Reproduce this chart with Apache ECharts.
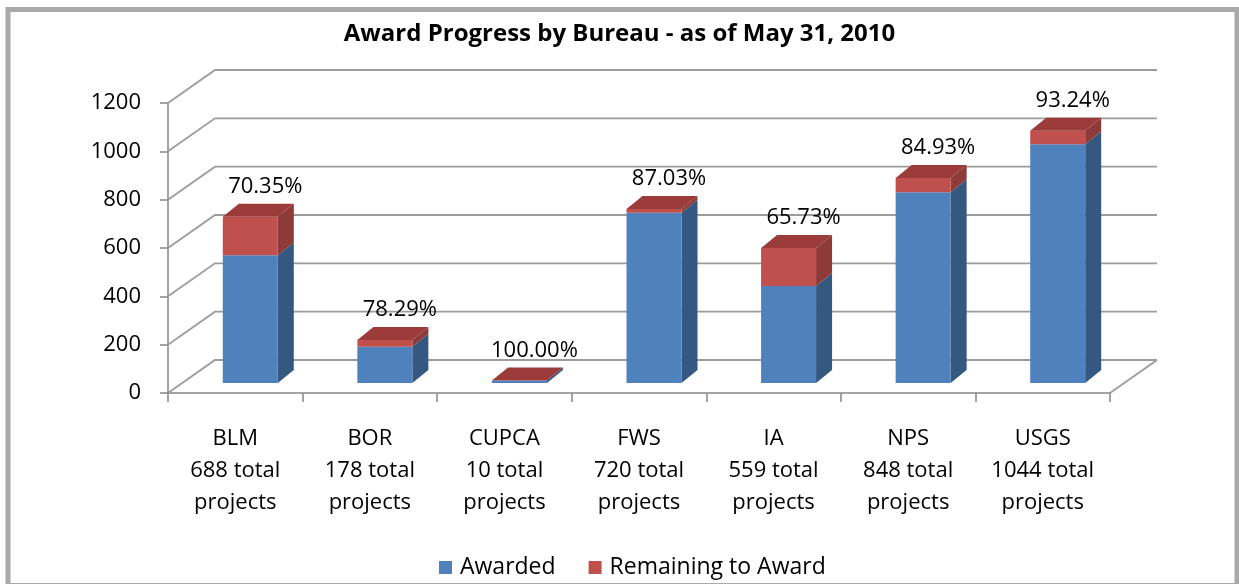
<!DOCTYPE html>
<html>
<head>
<meta charset="utf-8">
<script src="https://cdn.jsdelivr.net/npm/echarts@6/dist/echarts.min.js"></script>
<style>
html,body{margin:0;padding:0;background:#fff;}
#c{width:1239px;height:584px;}
</style>
</head>
<body>
<div id="c"></div>
<script>
// ---- data ----
const categories = ['BLM', 'BOR', 'CUPCA', 'FWS', 'IA', 'NPS', 'USGS'];
const totals = [688, 178, 10, 720, 559, 848, 1044];
const awarded = [529, 150, 10, 705, 401, 789, 988];
const remaining = [159, 28, 0, 15, 158, 59, 56];
const pctLabels = ['70.35%', '78.29%', '100.00%', '87.03%', '65.73%', '84.93%', '93.24%'];
const yTicks = [0, 200, 400, 600, 800, 1000, 1200];
const seriesNames = ['Awarded', 'Remaining to Award'];

// ---- styling constants ----
const FONT = "'Open Sans', 'DejaVu Sans', sans-serif";
const WALL_DX = 47, WALL_DY = -33;
const FRONT_DX = 15, FRONT_DY = -10;
const BAR_W = 55, BAR_DX = 16, BAR_DY = -13;
const BLUE = { front: '#4F81BD', side: '#34587F', top: '#3F6A9C' };
const RED = { front: '#C0504D', side: '#8E3A38', top: '#9B3C3A' };

const chart = echarts.init(document.getElementById('c'), null, { renderer: 'canvas' });

function wallRender(params, api) {
  const v = api.value(1);
  const cs = params.coordSys;
  const y = api.coord([0, v])[1];
  const xl = cs.x, xr = cs.x + cs.width;
  const children = [{
    type: 'polyline',
    shape: { points: [[xl, y], [xl + WALL_DX, y + WALL_DY], [xr + WALL_DX, y + WALL_DY]] },
    style: { stroke: '#9C9C9C', lineWidth: 1.8, fill: null }
  }];
  if (v === 0) {
    children.push({
      type: 'line',
      shape: { x1: xr, y1: y, x2: xr + WALL_DX, y2: y + WALL_DY },
      style: { stroke: '#9C9C9C', lineWidth: 1.8 }
    });
  }
  return { type: 'group', children: children };
}

function barRender(colors, isTop) {
  return function (params, api) {
    const i = api.value(0);
    const base = api.value(1), top = api.value(2);
    const p0 = api.coord([i, base]);
    const p1 = api.coord([i, top]);
    const cx = p0[0] + FRONT_DX;
    const x0 = cx - BAR_W / 2, x1 = cx + BAR_W / 2;
    const yb = p0[1] + FRONT_DY, yt = p1[1] + FRONT_DY;
    const children = [];
    if (yb - yt > 0.01) {
      children.push({
        type: 'polygon',
        shape: { points: [[x1, yb], [x1 + BAR_DX, yb + BAR_DY], [x1 + BAR_DX, yt + BAR_DY], [x1, yt]] },
        style: { fill: colors.side }
      });
      children.push({
        type: 'rect',
        shape: { x: x0, y: yt, width: BAR_W, height: yb - yt },
        style: { fill: colors.front }
      });
    }
    if (isTop) {
      children.push({
        type: 'polygon',
        shape: { points: [[x0, yt], [x0 + BAR_DX, yt + BAR_DY], [x1 + BAR_DX, yt + BAR_DY], [x1, yt]] },
        style: { fill: colors.top }
      });
      children.push({
        type: 'text',
        style: {
          text: pctLabels[i],
          x: cx + 15, y: yt + BAR_DY - 17,
          align: 'center', verticalAlign: 'middle',
          fill: '#000', font: '22px ' + FONT
        }
      });
    }
    return { type: 'group', children: children };
  };
}

const option = {
  backgroundColor: '#fff',
  animation: false,
  title: {
    text: 'Award Progress by Bureau - as of May 31, 2010',
    left: 'center', top: 17,
    textStyle: { fontFamily: FONT, fontWeight: 'bold', fontSize: 24, color: '#000' }
  },
  legend: {
    data: seriesNames,
    left: 434, top: 551,
    icon: 'rect', itemWidth: 13, itemHeight: 13, itemGap: 33,
    textStyle: { fontFamily: FONT, fontSize: 23, color: '#000', padding: [0, 0, 0, 3] }
  },
  grid: { left: 168, right: 129, top: 103, bottom: 191 },
  xAxis: {
    type: 'category',
    data: categories.map((c, i) => c + '\n' + totals[i] + ' total\nprojects'),
    axisLine: { lineStyle: { color: '#868686', width: 1.5 } },
    axisTick: { show: true, length: 9, lineStyle: { color: '#868686', width: 1.5 } },
    axisLabel: { fontFamily: FONT, fontSize: 22, color: '#000', lineHeight: 32, margin: 30, interval: 0 },
    splitLine: { show: false }
  },
  yAxis: {
    type: 'value', min: 0, max: 1200, interval: 200,
    axisLine: { show: true, lineStyle: { color: '#868686', width: 1.5 } },
    axisTick: { show: true, length: 8, lineStyle: { color: '#868686', width: 1.5 } },
    axisLabel: { fontFamily: FONT, fontSize: 22, color: '#000', margin: 27, formatter: v => String(v) },
    splitLine: { show: false }
  },
  series: [
    {
      type: 'custom', name: 'walls', silent: true, z: 1,
      renderItem: wallRender,
      encode: { x: 0, y: 1 },
      data: yTicks.map(v => [0, v])
    },
    {
      type: 'custom', name: seriesNames[0], z: 3, clip: false,
      itemStyle: { color: BLUE.front },
      renderItem: barRender(BLUE, false),
      encode: { x: 0, y: [1, 2] },
      data: awarded.map((v, i) => [i, 0, v])
    },
    {
      type: 'custom', name: seriesNames[1], z: 4, clip: false,
      itemStyle: { color: RED.front },
      renderItem: barRender(RED, true),
      encode: { x: 0, y: [1, 2] },
      data: remaining.map((v, i) => [i, awarded[i], awarded[i] + v])
    }
  ],
  graphic: [{
    type: 'rect', silent: true, z: 100,
    shape: { x: 8, y: 9.5, width: 1229, height: 576 },
    style: { fill: null, stroke: '#A9A9A9', lineWidth: 5 }
  }]
};
chart.setOption(option);
</script>
</body>
</html>
